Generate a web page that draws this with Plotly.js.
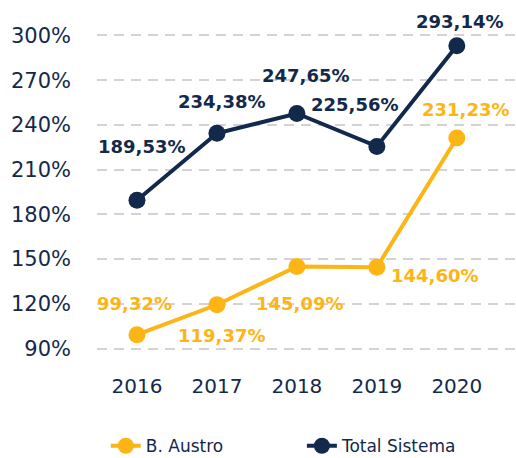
<!DOCTYPE html>
<html><head><meta charset="utf-8">
<script src="https://cdn.plot.ly/plotly-3.0.1.min.js"></script>
<style>html,body{margin:0;padding:0;background:#fff}#chart{width:516px;height:458px}</style>
</head><body><div id="chart"></div>
<script>
const years = ['2016','2017','2018','2019','2020'];
const austro = [99.32, 119.37, 145.09, 144.60, 231.23];
const sistema = [189.53, 234.38, 247.65, 225.56, 293.14];
const yTicks = [90,120,150,180,210,240,270,300];
const seriesNames = ['B. Austro','Total Sistema'];

const ORANGE = '#FDB515';
const NAVY = '#13294B';
const FONT = 'DejaVu Sans, sans-serif';

function fmt(v){ return v.toFixed(2).replace('.', ',') + '%'; }

// label offsets (pixels) relative to the point
const austroOff = [[-2,31],[5,-31],[3,-37],[58,-8],[9,28]];
const sistemaOff = [[5,54],[5,32],[9,38],[-22,42],[3,24]];

const annotations = [];
austro.forEach((v,i)=>annotations.push({x:i,y:v,xref:'x',yref:'y',text:'<b>'+fmt(v)+'</b>',showarrow:false,
  xshift:austroOff[i][0],yshift:austroOff[i][1],font:{family:FONT,size:18,color:ORANGE}}));
sistema.forEach((v,i)=>annotations.push({x:i,y:v,xref:'x',yref:'y',text:'<b>'+fmt(v)+'</b>',showarrow:false,
  xshift:sistemaOff[i][0],yshift:sistemaOff[i][1],font:{family:FONT,size:18,color:NAVY}}));

const traces = [
  {x:years,y:austro,name:seriesNames[0],type:'scatter',mode:'lines+markers',legend:'legend',
   line:{color:ORANGE,width:4},marker:{color:ORANGE,size:17},cliponaxis:false},
  {x:years,y:sistema,name:seriesNames[1],type:'scatter',mode:'lines+markers',legend:'legend2',
   line:{color:NAVY,width:4},marker:{color:NAVY,size:17},cliponaxis:false}
];

const legendBase = {orientation:'h',xanchor:'left',y:-0.275,yanchor:'middle',
  font:{family:FONT,size:17,color:NAVY},bgcolor:'rgba(0,0,0,0)'};

const layout = {
  width:516,height:458,
  margin:{l:97,r:0,t:28,b:102,autoexpand:false},
  paper_bgcolor:'#fff',plot_bgcolor:'#fff',
  font:{family:FONT,color:NAVY},
  showlegend:true,
  legend:Object.assign({},legendBase,{x:0.021}),
  legend2:Object.assign({},legendBase,{x:0.489}),
  xaxis:{type:'category',range:[-0.5,4.74],showgrid:false,zeroline:false,showline:false,
    ticks:'',ticklabelstandoff:16,tickfont:{family:FONT,size:20,color:NAVY},fixedrange:true},
  yaxis:{range:[85,305],tickvals:yTicks,ticktext:yTicks.map(v=>v+'%'),
    showgrid:true,gridcolor:'#D3D3D3',gridwidth:2,griddash:'10px,7px',zeroline:false,showline:false,
    ticks:'',ticklabelstandoff:25,tickfont:{family:FONT,size:21,color:NAVY}},
  annotations:annotations
};
Plotly.newPlot('chart',traces,layout,{displayModeBar:false,staticPlot:true});
</script></body></html>
